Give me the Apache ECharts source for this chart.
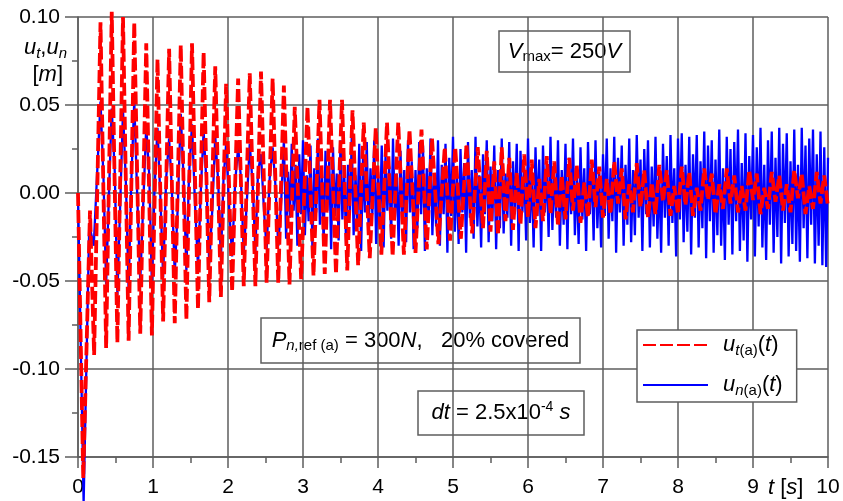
<!DOCTYPE html>
<html><head><meta charset="utf-8">
<script src="https://cdn.jsdelivr.net/npm/echarts@6/dist/echarts.min.js"></script>
<style>html,body{margin:0;padding:0;background:#fff}#c{width:843px;height:501px}</style>
</head><body><div id="c"></div>
<script>
// ---- data (t in s, u in m) ----
const xRange = [0, 10];
const yRange = [-0.15, 0.10];
const seriesNames = ['ut', 'un'];

// u_t(a)(t): extrema of the red dashed trace
const utSamples = [
 [0,0],[0.07,-0.162],[0.16,-0.010],[0.215,-0.092],[0.30,0.097],[0.375,-0.088],[0.45,0.103],[0.525,-0.085],
 [0.60,0.100],[0.675,-0.084],[0.75,0.097],[0.83,-0.080],[0.91,0.085],[0.985,-0.081],[1.06,0.076],[1.135,-0.073],
 [1.215,0.082],[1.29,-0.074],[1.37,0.084],[1.445,-0.072],[1.52,0.085],[1.60,-0.066],[1.675,0.080],[1.75,-0.062],
 [1.83,0.072],[1.905,-0.059],[1.975,0.062],[2.055,-0.056],[2.135,0.065],[2.21,-0.053],[2.29,0.068],[2.365,-0.053],
 [2.44,0.069],[2.515,-0.051],[2.595,0.065],[2.67,-0.051],[2.745,0.061],[2.82,-0.052],[2.89,0.049],[2.975,-0.049],
 [3.06,0.049],[3.14,-0.047],[3.22,0.053],[3.29,-0.046],[3.36,0.053],[3.44,-0.046],[3.52,0.053],[3.59,-0.044],
 [3.66,0.047],[3.735,-0.041],[3.81,0.040],[3.89,-0.037],[3.97,0.037],[4.045,-0.035],[4.12,0.040],[4.195,-0.036],
 [4.27,0.040],[4.345,-0.035],[4.42,0.036],[4.50,-0.034],[4.58,0.036],[4.65,-0.032],[4.72,0.031],[4.805,-0.029],
 [4.89,0.026],[4.96,-0.027],[5.03,0.026],[5.105,-0.026],[5.18,0.028],[5.255,-0.023],[5.33,0.026],
 [5.40,-0.020],[5.45,0.024],[5.50,-0.022],[5.55,0.018],[5.60,-0.024],[5.65,0.026],[5.70,-0.016],[5.75,0.020],
 [5.80,-0.021],[5.85,0.012],[5.90,-0.018],[5.95,0.022],[6.00,-0.014],[6.05,0.019],[6.10,-0.020],[6.15,0.008],
 [6.20,-0.016],[6.25,0.021],[6.30,-0.012],[6.35,0.018],[6.40,-0.019],[6.45,0.010],[6.50,-0.015],[6.55,0.020],
 [6.60,-0.010],[6.65,0.016],[6.70,-0.017],[6.75,0.006],[6.80,-0.014],[6.85,0.019],[6.90,-0.008],[6.95,0.015],
 [7.00,-0.014],[7.05,0.008],[7.10,-0.012],[7.15,0.018],[7.20,-0.006],[7.25,0.014],[7.30,-0.015],[7.35,0.005],
 [7.40,-0.011],[7.45,0.017],[7.50,-0.008],[7.55,0.013],[7.60,-0.014],[7.65,0.006],[7.70,-0.012],[7.75,0.016],
 [7.80,-0.005],[7.85,0.013],[7.90,-0.013],[7.95,0.004],[8.00,-0.012],[8.05,0.015],[8.10,-0.007],[8.15,0.012],
 [8.20,-0.013],[8.25,0.003],[8.30,-0.010],[8.35,0.014],[8.40,-0.004],[8.45,0.011],[8.50,-0.012],[8.55,0.005],
 [8.60,-0.009],[8.65,0.014],[8.70,-0.006],[8.75,0.010],[8.80,-0.011],[8.85,0.004],[8.90,-0.010],[8.95,0.013],
 [9.00,-0.004],[9.05,0.011],[9.10,-0.012],[9.15,0.003],[9.20,-0.009],[9.25,0.012],[9.30,-0.005],[9.35,0.010],
 [9.40,-0.010],[9.45,0.005],[9.50,-0.011],[9.55,0.013],[9.60,-0.003],[9.65,0.011],[9.70,-0.012],[9.75,0.004],
 [9.80,-0.009],[9.85,0.012],[9.90,-0.006],[9.95,0.010],[10.00,-0.008]
];

// u_n(a)(t): blue solid trace, early part (follows the u_t rhythm)
const unEarly = [
 [0,0],[0.075,-0.176],[0.15,-0.018],[0.21,-0.030],[0.30,0.052],[0.34,0.008],[0.375,-0.052],[0.41,-0.004],
 [0.45,0.048],[0.49,0.012],[0.525,-0.058],[0.56,-0.010],[0.60,0.047],[0.64,0.004],[0.675,-0.055],[0.71,0.006],
 [0.75,0.052],[0.79,-0.002],[0.83,-0.050],[0.87,-0.006],[0.91,0.038],[0.95,0.010],[0.985,-0.052],[1.02,0.002],
 [1.06,0.037],[1.10,-0.004],[1.135,-0.048],[1.175,0.008],[1.215,0.031],[1.25,0.004],[1.29,-0.046],[1.33,-0.008],
 [1.37,0.045],[1.41,0.006],[1.445,-0.044],[1.48,0.010],[1.52,0.039],[1.56,-0.006],[1.60,-0.042],[1.64,0.004],
 [1.675,0.035],[1.71,0.008],[1.75,-0.040],[1.79,-0.010],[1.83,0.032],[1.87,0.006],[1.905,-0.038],[1.94,0.008],
 [1.975,0.028],[2.015,-0.008],[2.055,-0.036],[2.095,0.006],[2.135,0.026],[2.17,0.010],[2.21,-0.034],[2.25,-0.006],
 [2.29,0.028],[2.33,0.004],[2.365,-0.033],[2.40,0.012],[2.44,0.022],[2.48,-0.010],[2.515,-0.032],[2.555,0.008],
 [2.595,0.026],[2.63,0.006],[2.67,-0.030],[2.71,-0.004],[2.745,0.030]
];

// u_n(a)(t): later, faster oscillation (dense band)
const unLate = [
 [2.775,-0.026],[2.800,0.012],[2.825,-0.014],[2.850,0.028],[2.875,-0.010],[2.900,0.016],[2.925,-0.030],[2.950,0.022],
 [2.975,-0.012],[3.000,0.030],[3.025,-0.024],[3.050,0.010],[3.075,-0.016],[3.100,0.027],[3.125,-0.031],[3.150,0.014],
 [3.175,-0.011],[3.200,0.031],[3.225,-0.018],[3.250,0.013],[3.275,-0.029],[3.300,0.024],[3.325,-0.010],[3.350,0.018],
 [3.375,-0.032],[3.400,0.026],[3.425,-0.013],[3.450,0.011],[3.475,-0.027],[3.500,0.030],[3.525,-0.015],[3.550,0.012],
 [3.575,-0.030],[3.600,0.016],[3.625,-0.012],[3.650,0.032],[3.675,-0.024],[3.700,0.010],[3.725,-0.017],[3.750,0.028],
 [3.775,-0.033],[3.800,0.020],[3.825,-0.011],[3.850,0.029],[3.875,-0.022],[3.900,0.014],[3.925,-0.012],[3.950,0.030],
 [3.975,-0.029],[4.000,0.012],[4.025,-0.018],[4.050,0.027],[4.075,-0.031],[4.100,0.021],[4.125,-0.010],[4.150,0.015],
 [4.175,-0.026],[4.200,0.031],[4.225,-0.014],[4.250,0.011],[4.275,-0.030],[4.300,0.024],[4.325,-0.016],[4.350,0.013],
 [4.375,-0.028],[4.400,0.030],[4.425,-0.011],[4.450,0.018],[4.475,-0.032],[4.500,0.013],[4.525,-0.020],[4.550,0.029],
 [4.575,-0.012],[4.600,0.027],[4.625,-0.033],[4.650,0.014],[4.675,-0.015],[4.700,0.031],[4.725,-0.024],[4.750,0.011],
 [4.775,-0.019],[4.800,0.030],[4.825,-0.030],[4.850,0.016],[4.875,-0.012],[4.900,0.028],[4.925,-0.034],[4.950,0.020],
 [4.975,-0.013],[5.000,0.032],[5.025,-0.022],[5.050,0.012],[5.075,-0.029],[5.100,0.025],[5.125,-0.011],[5.150,0.017],
 [5.175,-0.034],[5.200,0.029],[5.225,-0.014],[5.250,0.013],[5.275,-0.026],[5.300,0.032],[5.325,-0.019],[5.350,0.010],
 [5.375,-0.031],[5.400,0.022],[5.425,-0.012],[5.450,0.030],[5.475,-0.028],[5.500,0.015],[5.525,-0.016],[5.550,0.027],
 [5.575,-0.032],[5.600,0.013],[5.625,-0.020],[5.650,0.031],[5.675,-0.023],[5.700,0.011],[5.725,-0.014],[5.750,0.029],
 [5.775,-0.030],[5.800,0.018],[5.825,-0.012],[5.850,0.028],[5.875,-0.033],[5.900,0.024],[5.925,-0.011],[5.950,0.014],
 [5.975,-0.027],[6.000,0.031],[6.025,-0.017],[6.050,0.012],[6.075,-0.031],[6.100,0.026],[6.125,-0.013],[6.150,0.019],
 [6.175,-0.033],[6.200,0.027],[6.225,-0.011],[6.250,0.016],[6.275,-0.025],[6.300,0.032],[6.325,-0.021],[6.350,0.012],
 [6.375,-0.014],[6.400,0.030],[6.425,-0.030],[6.450,0.013],[6.475,-0.018],[6.500,0.028],[6.525,-0.032],[6.550,0.020],
 [6.575,-0.012],[6.600,0.031],[6.625,-0.024],[6.650,0.011],[6.675,-0.029],[6.700,0.026],[6.725,-0.015],[6.750,0.014],
 [6.775,-0.033],[6.800,0.029],[6.825,-0.012],[6.850,0.017],[6.875,-0.027],[6.900,0.030],[6.925,-0.020],[6.950,0.011],
 [6.975,-0.031],[7.000,0.022],[7.025,-0.013],[7.050,0.031],[7.075,-0.026],[7.100,0.014],[7.125,-0.016],[7.150,0.032],
 [7.175,-0.034],[7.200,0.020],[7.225,-0.011],[7.250,0.027],[7.275,-0.030],[7.300,0.016],[7.325,-0.018],[7.350,0.031],
 [7.375,-0.028],[7.400,0.013],[7.425,-0.024],[7.450,0.033],[7.475,-0.014],[7.500,0.019],[7.525,-0.033],[7.550,0.025],
 [7.575,-0.012],[7.600,0.030],[7.625,-0.031],[7.650,0.015],[7.675,-0.019],[7.700,0.032],[7.725,-0.026],[7.750,0.012],
 [7.775,-0.034],[7.800,0.028],[7.825,-0.014],[7.850,0.021],[7.875,-0.030],[7.900,0.033],[7.925,-0.017],[7.950,0.014],
 [7.975,-0.036],[8.000,0.031],[8.025,-0.015],[8.050,0.034],[8.075,-0.028],[8.100,0.016],[8.125,-0.022],[8.150,0.032],
 [8.175,-0.035],[8.200,0.022],[8.225,-0.014],[8.250,0.033],[8.275,-0.031],[8.300,0.018],[8.325,-0.020],[8.350,0.035],
 [8.375,-0.037],[8.400,0.027],[8.425,-0.016],[8.450,0.030],[8.475,-0.034],[8.500,0.019],[8.525,-0.024],[8.550,0.036],
 [8.575,-0.030],[8.600,0.014],[8.625,-0.038],[8.650,0.032],[8.675,-0.018],[8.700,0.025],[8.725,-0.035],[8.750,0.029],
 [8.775,-0.016],[8.800,0.036],[8.825,-0.033],[8.850,0.017],[8.875,-0.027],[8.900,0.034],[8.925,-0.039],[8.950,0.021],
 [8.975,-0.015],[9.000,0.033],[9.025,-0.036],[9.050,0.026],[9.075,-0.019],[9.100,0.037],[9.125,-0.031],[9.150,0.016],
 [9.175,-0.038],[9.200,0.030],[9.225,-0.018],[9.250,0.035],[9.275,-0.034],[9.300,0.020],[9.325,-0.025],[9.350,0.037],
 [9.375,-0.040],[9.400,0.028],[9.425,-0.017],[9.450,0.034],[9.475,-0.036],[9.500,0.018],[9.525,-0.029],[9.550,0.036],
 [9.575,-0.033],[9.600,0.016],[9.625,-0.039],[9.650,0.037],[9.675,-0.020],[9.700,0.027],[9.725,-0.037],[9.750,0.031],
 [9.775,-0.018],[9.800,0.036],[9.825,-0.040],[9.850,0.022],[9.875,-0.030],[9.900,0.035],[9.925,-0.041],[9.950,0.026],
 [9.975,-0.042],[10.000,0.020]
];
const unSamples = unEarly.concat(unLate);

// ---- styling ----
const F = '"Liberation Sans", Arial, sans-serif';
const GRID = '#5e5e5e';
const RED = '#ff0000';
const BLUE = '#0000ff';

function richSet(zr) {
  const c = zr ? {fill:'#000'} : {color:'#000'};
  return {
    i:   Object.assign({fontFamily:F, fontSize:22, fontStyle:'italic', lineHeight:26}, c),
    r:   Object.assign({fontFamily:F, fontSize:22, lineHeight:26}, c),
    si:  Object.assign({fontFamily:F, fontSize:15, fontStyle:'italic', lineHeight:15, verticalAlign:'bottom'}, c),
    s:   Object.assign({fontFamily:F, fontSize:15, lineHeight:15, verticalAlign:'bottom'}, c),
    sup: Object.assign({fontFamily:F, fontSize:14, lineHeight:14, verticalAlign:'top'}, c),
    g:   Object.assign({fontFamily:F, fontSize:10, width:10}, c)
  };
}

const chart = echarts.init(document.getElementById('c'), null, {renderer:'canvas'});

function box(x, y, w, h, text) {
  return {
    type:'group', z:100, children:[
      {type:'rect', shape:{x:x, y:y, width:w, height:h}, style:{fill:'#fff', stroke:GRID, lineWidth:1.5}},
      {type:'text', x:x + w/2, y:y + h/2, style:{text:text, rich:richSet(true), align:'center', verticalAlign:'middle', fill:'#000'}}
    ]
  };
}

const option = {
  animation:false,
  backgroundColor:'#fff',
  grid:{left:78, right:15, top:17, bottom:44, containLabel:false},
  xAxis:{
    type:'value', min:xRange[0], max:xRange[1], interval:1,
    axisLine:{show:true, onZero:false, lineStyle:{color:GRID, width:1.5}},
    axisTick:{show:true, length:11, lineStyle:{color:GRID, width:1.5}},
    minorTick:{show:true, splitNumber:2, length:6, lineStyle:{color:GRID, width:1.5}},
    splitLine:{show:true, lineStyle:{color:GRID, width:1.5}},
    axisLabel:{margin:20, color:'#000', fontFamily:F, fontSize:21}
  },
  yAxis:{
    type:'value', min:yRange[0], max:yRange[1], interval:0.05,
    axisLine:{show:true, lineStyle:{color:GRID, width:1.5}},
    axisTick:{show:true, length:13, lineStyle:{color:GRID, width:1.5}},
    minorTick:{show:true, splitNumber:2, length:6, lineStyle:{color:GRID, width:1.5}},
    splitLine:{show:true, lineStyle:{color:GRID, width:1.5}},
    axisLabel:{margin:18, color:'#000', fontFamily:F, fontSize:21,
      formatter:function(v){ return (Math.abs(v) < 1e-9 ? 0 : v).toFixed(2); }}
  },
  legend:{
    data:seriesNames, orient:'vertical', left:637, top:330,
    itemWidth:65, itemHeight:14, itemGap:16,
    padding:[4,14,4,5],
    backgroundColor:'#fff', borderColor:GRID, borderWidth:1.5,
    itemStyle:{opacity:0},
    textStyle:{color:'#000', fontFamily:F, fontSize:22, rich:richSet(false)},
    formatter:function(n){
      return n === 'ut'
        ? '{g| }{i|u}{si|t}{s|(a)}{r|(}{i|t}{r|)}'
        : '{g| }{i|u}{si|n}{s|(a)}{r|(}{i|t}{r|)}';
    }
  },
  series:[
    {name:'un', type:'line', data:unSamples, showSymbol:false, symbol:'none', clip:false,
     lineStyle:{color:BLUE, width:2.3}, itemStyle:{color:BLUE}, z:2},
    {name:'ut', type:'line', data:utSamples, showSymbol:false, symbol:'none', clip:false,
     lineStyle:{color:RED, width:3.8, type:[13,4]}, itemStyle:{color:RED}, z:3}
  ],
  graphic:[
    box(499, 31, 131, 41, '{i|V}{s|max}{r|= 250}{i|V}'),
    box(261, 318, 319, 45, '{i|P}{si|n,}{s|ref (a)}{r| = 300}{i|N}{r|,   20% covered}'),
    box(418, 391, 166, 44, '{i|dt}{r| = 2.5x10}{sup|-4}{r| }{i|s}'),
    {type:'text', x:67, y:48, z:100, style:{text:'{i|u}{si|t}{r|,}{i|u}{si|n}', rich:richSet(true), align:'right', verticalAlign:'middle'}},
    {type:'text', x:63, y:75, z:100, style:{text:'{r|[}{i|m}{r|]}', rich:richSet(true), align:'right', verticalAlign:'middle'}},
    {type:'text', x:768, y:488, z:100, style:{text:'{i|t}{r| [}{i|s}{r|]}', rich:richSet(true), align:'left', verticalAlign:'middle'}}
  ]
};
chart.setOption(option);
</script></body></html>
